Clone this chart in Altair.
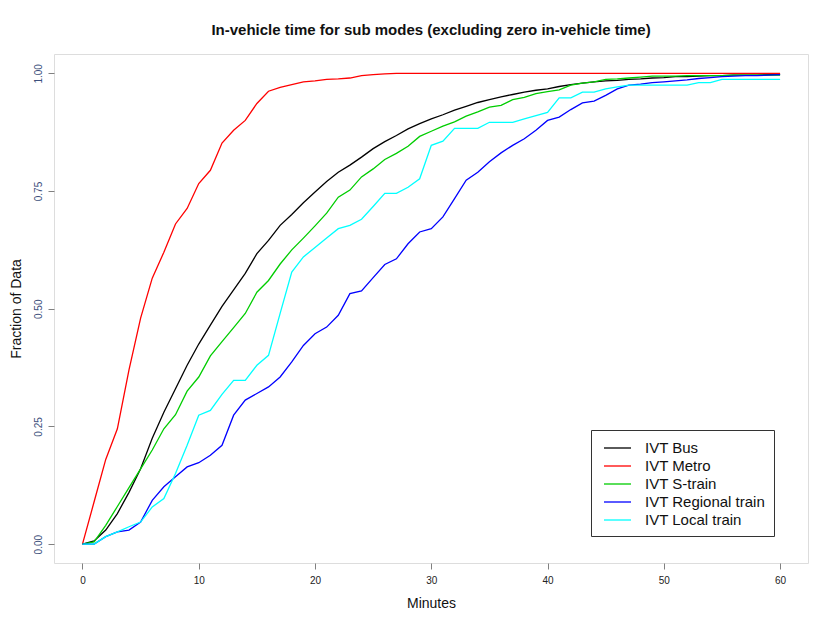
import altair as alt
import pandas as pd

minutes = list(range(0, 61))

series_names = ["IVT Bus", "IVT Metro", "IVT S-train", "IVT Regional train", "IVT Local train"]
series_colors = ["#000000", "#FF0000", "#00CD00", "#0000FF", "#00FFFF"]

bus = [0, 0.007, 0.03, 0.065, 0.11, 0.16, 0.225, 0.28, 0.33, 0.38,
       0.425, 0.465, 0.505, 0.54, 0.575, 0.617, 0.645, 0.677, 0.70, 0.725,
       0.748, 0.77, 0.79, 0.805, 0.822, 0.84, 0.855, 0.868, 0.882, 0.893,
       0.903, 0.912, 0.922, 0.93, 0.938, 0.944, 0.95, 0.955, 0.96, 0.964,
       0.967, 0.972, 0.976, 0.979, 0.982, 0.984, 0.985, 0.987, 0.988, 0.99,
       0.991, 0.993, 0.993, 0.994, 0.995, 0.995, 0.996, 0.996, 0.996, 0.997,
       0.997]

metro = [0, 0.09, 0.18, 0.245, 0.37, 0.48, 0.565, 0.62, 0.68, 0.713,
         0.766, 0.794, 0.852, 0.879, 0.9, 0.936, 0.962, 0.97, 0.976, 0.982,
         0.984, 0.987, 0.988, 0.99, 0.995, 0.997, 0.999, 1.0, 1.0, 1.0,
         1.0, 1.0, 1.0, 1.0, 1.0, 1.0, 1.0, 1.0, 1.0, 1.0,
         1.0, 1.0, 1.0, 1.0, 1.0, 1.0, 1.0, 1.0, 1.0, 1.0,
         1.0, 1.0, 1.0, 1.0, 1.0, 1.0, 1.0, 1.0, 1.0, 1.0,
         1.0]

strain = [0, 0.005, 0.04, 0.08, 0.12, 0.16, 0.2, 0.245, 0.275, 0.325,
          0.355, 0.4, 0.43, 0.46, 0.49, 0.535, 0.56, 0.595, 0.625, 0.65,
          0.676, 0.703, 0.737, 0.752, 0.78, 0.797, 0.817, 0.83, 0.845, 0.866,
          0.877, 0.888, 0.897, 0.909, 0.918, 0.928, 0.932, 0.944, 0.949, 0.957,
          0.961, 0.965, 0.975, 0.979, 0.982, 0.987, 0.988, 0.99, 0.992, 0.994,
          0.994, 0.994, 0.995, 0.995, 0.995, 0.995, 0.996, 0.996, 0.996, 0.996,
          0.996]

regional = [0, 0, 0.016, 0.026, 0.03, 0.047, 0.093, 0.122, 0.143, 0.164,
            0.173, 0.189, 0.21, 0.274, 0.306, 0.32, 0.334, 0.355, 0.387, 0.422,
            0.447, 0.461, 0.486, 0.532, 0.538, 0.566, 0.594, 0.606, 0.638, 0.663,
            0.67, 0.695, 0.734, 0.773, 0.79, 0.812, 0.831, 0.847, 0.861, 0.879,
            0.9, 0.907, 0.923, 0.937, 0.941, 0.953, 0.967, 0.975, 0.977, 0.98,
            0.982, 0.984, 0.986, 0.989, 0.991, 0.993, 0.994, 0.995, 0.995, 0.996,
            0.997]

local = [0, 0, 0.016, 0.026, 0.037, 0.047, 0.079, 0.097, 0.15, 0.21,
         0.274, 0.284, 0.318, 0.348, 0.348, 0.38, 0.401, 0.49, 0.578, 0.61,
         0.63, 0.65, 0.67, 0.677, 0.69, 0.717, 0.745, 0.745, 0.758, 0.776,
         0.847, 0.856, 0.883, 0.883, 0.883, 0.896, 0.896, 0.896, 0.903, 0.91,
         0.917, 0.948, 0.948, 0.96, 0.96, 0.967, 0.971, 0.975, 0.975, 0.975,
         0.975, 0.975, 0.975, 0.98, 0.98, 0.987, 0.987, 0.987, 0.987, 0.987,
         0.987]

rows = []
for name, vals in zip(series_names, [bus, metro, strain, regional, local]):
    for m, v in zip(minutes, vals):
        rows.append({"Minutes": m, "Fraction": v, "Mode": name})
df = pd.DataFrame(rows)

FONT = "Liberation Sans"

chart = alt.Chart(df).mark_line(strokeWidth=1.3, clip=True).encode(
    x=alt.X("Minutes:Q",
            scale=alt.Scale(domain=[-2.45, 62.4], nice=False, zero=False),
            axis=alt.Axis(values=[0, 10, 20, 30, 40, 50, 60], title="Minutes",
                          grid=False, domain=False, tickColor="#808080",
                          tickSize=6, labelPadding=6, labelFontSize=10,
                          labelColor="#222222", labelFont=FONT,
                          titleFont=FONT, titleFontSize=14, titleFontWeight="normal",
                          titleColor="#111111", titlePadding=11)),
    y=alt.Y("Fraction:Q",
            scale=alt.Scale(domain=[-0.04, 1.041], nice=False, zero=False),
            axis=alt.Axis(values=[0, 0.25, 0.5, 0.75, 1.0], format=".2f",
                          title="Fraction of Data",
                          grid=False, domain=False, tickColor="#808080",
                          tickSize=6, labelPadding=5, labelFontSize=10,
                          labelAngle=270, labelAlign="center", labelBaseline="bottom",
                          labelColor="#3c4f7c", labelFont=FONT,
                          titleFont=FONT, titleFontSize=14, titleFontWeight="normal",
                          titleColor="#111111", titlePadding=10)),
    color=alt.Color("Mode:N",
                    scale=alt.Scale(domain=series_names, range=series_colors),
                    legend=alt.Legend(orient="none", legendX=537, legendY=376,
                                      title=None, symbolType="M-1.445,0H1.445",
                                      symbolSize=349, symbolStrokeWidth=1.3,
                                      symbolOffset=8.5,
                                      labelFontSize=15, labelFont=FONT,
                                      labelColor="#111111", labelOffset=17.5,
                                      strokeColor="#333333", fillColor="white",
                                      padding=8, rowPadding=0)),
    order=alt.Order("Minutes:Q"),
).properties(
    width=754,
    height=509,
    title=alt.TitleParams("In-vehicle time for sub modes (excluding zero in-vehicle time)",
                          font=FONT, fontSize=15, fontWeight="bold",
                          color="#111111", anchor="middle", offset=16),
    autosize=alt.AutoSizeParams(type="none"),
    padding={"left": 46, "top": 46, "right": 8, "bottom": 55},
).configure_view(
    stroke="#808080", strokeWidth=1
).configure(
    background="white"
)

chart.save("out.html", embed_options={"renderer": "svg", "actions": False})
